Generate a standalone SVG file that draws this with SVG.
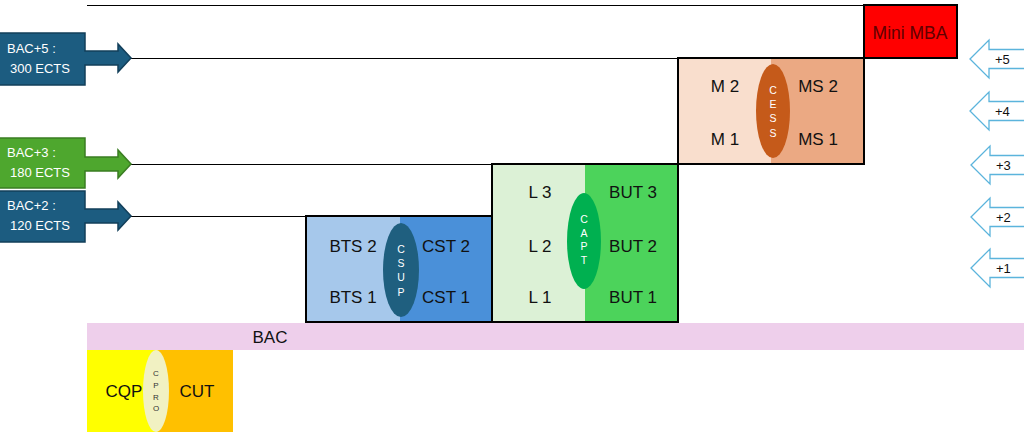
<svg xmlns="http://www.w3.org/2000/svg" width="1024" height="437" viewBox="0 0 1024 437">
<style>
text{font-family:"Liberation Sans",Arial,sans-serif}
.lbl{font-size:17px;fill:#111;text-anchor:middle}
.box{stroke:#000;stroke-width:2;fill:none}
.line{stroke:#000;stroke-width:1;fill:none}
.eltxt{font-size:10.5px;fill:#fff;text-anchor:middle}
.lt{font-size:13px;fill:#fff}
.ra{fill:#fff;stroke:#5BB4DC;stroke-width:1.3}
.rt{font-size:13px;fill:#111}
</style>
<rect width="1024" height="437" fill="#fff"/>
<g id="connectors">
<line class="line" x1="87" y1="5.5" x2="864" y2="5.5"/>
<line class="line" x1="131" y1="58.5" x2="678" y2="58.5"/>
<line class="line" x1="131" y1="164.5" x2="492" y2="164.5"/>
<line class="line" x1="131" y1="216.5" x2="306" y2="216.5"/>
</g>
<g id="bac">
<rect x="87" y="323" width="940" height="27" fill="#EECFEB"/>
<text class="lbl" x="270" y="343">BAC</text>
</g>
<g id="cqp">
<rect x="87" y="350" width="71" height="82" fill="#FFFF00"/>
<rect x="158" y="350" width="75" height="82" fill="#FFC000"/>
<ellipse cx="156" cy="391" rx="13" ry="41" fill="#F1F1C2"/>
<text class="lbl" x="124" y="397">CQP</text>
<text class="lbl" x="197" y="397">CUT</text>
<g font-size="8" fill="#333" text-anchor="middle">
<text x="156" y="376">C</text><text x="156" y="388">P</text><text x="156" y="400">R</text><text x="156" y="411">O</text>
</g>
</g>
<g id="bts">
<rect x="306" y="216" width="94" height="106" fill="#A6C8EB"/>
<rect x="400" y="216" width="92" height="106" fill="#4A90D9"/>
<ellipse cx="401" cy="270" rx="18" ry="47" fill="#1F5F7F"/>
<rect class="box" x="306" y="216" width="186" height="106"/>
<text class="lbl" x="353" y="252">BTS 2</text>
<text class="lbl" x="353" y="303">BTS 1</text>
<text class="lbl" x="446" y="252">CST 2</text>
<text class="lbl" x="446" y="303">CST 1</text>
<text class="eltxt" x="401" y="253">C</text><text class="eltxt" x="401" y="267">S</text><text class="eltxt" x="401" y="281">U</text><text class="eltxt" x="401" y="296">P</text>
</g>
<g id="licence">
<rect x="492" y="164" width="93" height="158" fill="#DCF1D6"/>
<rect x="585" y="164" width="93" height="158" fill="#4CD35B"/>
<ellipse cx="584" cy="241" rx="17" ry="48" fill="#00B050"/>
<rect class="box" x="492" y="164" width="186" height="158"/>
<text class="lbl" x="540" y="198">L 3</text>
<text class="lbl" x="540" y="252">L 2</text>
<text class="lbl" x="540" y="303">L 1</text>
<text class="lbl" x="633" y="198">BUT 3</text>
<text class="lbl" x="633" y="252">BUT 2</text>
<text class="lbl" x="633" y="303">BUT 1</text>
<text class="eltxt" x="584" y="223">C</text><text class="eltxt" x="584" y="237">A</text><text class="eltxt" x="584" y="250">P</text><text class="eltxt" x="584" y="264">T</text>
</g>
<g id="master">
<rect x="678" y="58" width="93" height="106" fill="#F9DECD"/>
<rect x="771" y="58" width="93" height="106" fill="#EBA983"/>
<ellipse cx="773" cy="111" rx="17" ry="47" fill="#C55A1A"/>
<rect class="box" x="678" y="58" width="186" height="106"/>
<text class="lbl" x="725" y="92">M 2</text>
<text class="lbl" x="725" y="145">M 1</text>
<text class="lbl" x="818" y="92">MS 2</text>
<text class="lbl" x="818" y="145">MS 1</text>
<text class="eltxt" x="773" y="94">C</text><text class="eltxt" x="773" y="108">E</text><text class="eltxt" x="773" y="122">S</text><text class="eltxt" x="773" y="137">S</text>
</g>
<g id="mba">
<rect x="864" y="5" width="93" height="53" fill="#FF0000" stroke="#000" stroke-width="2"/>
<text x="910" y="39" font-size="17.5" fill="#600000" text-anchor="middle">Mini MBA</text>
</g>
<g id="bac5">
<polygon points="-2,33 85,33 85,51 118,51 118,44 131,58 118,72 118,65 85,65 85,85 -2,85" fill="#1C5C80" stroke="#123F5A" stroke-width="1.5"/>
<text class="lt" x="7" y="53">BAC+5 :</text>
<text class="lt" x="10" y="73">300 ECTS</text>
</g>
<g id="bac3">
<polygon points="-2,138 85,138 85,157 118,157 118,150 131,164 118,178 118,171 85,171 85,188 -2,188" fill="#4EA72E" stroke="#3A7D22" stroke-width="1.5"/>
<text class="lt" x="7" y="157">BAC+3 :</text>
<text class="lt" x="10" y="177">180 ECTS</text>
</g>
<g id="bac2">
<polygon points="-2,191 85,191 85,209 118,209 118,202 131,216 118,230 118,223 85,223 85,242 -2,242" fill="#1C5C80" stroke="#123F5A" stroke-width="1.5"/>
<text class="lt" x="7" y="210">BAC+2 :</text>
<text class="lt" x="10" y="230">120 ECTS</text>
</g>
<g id="plus5">
<polygon class="ra" points="970,59 989,40 989,49.5 1030,49.5 1030,68.5 989,68.5 989,78"/>
<text class="rt" x="995" y="64">+5</text>
</g>
<g id="plus4">
<polygon class="ra" points="970,111 989,92 989,101.5 1030,101.5 1030,120.5 989,120.5 989,130"/>
<text class="rt" x="995" y="116">+4</text>
</g>
<g id="plus3">
<polygon class="ra" points="971,165 990,146 990,155.5 1030,155.5 1030,174.5 990,174.5 990,184"/>
<text class="rt" x="996" y="170">+3</text>
</g>
<g id="plus2">
<polygon class="ra" points="971,217 990,198 990,207.5 1030,207.5 1030,226.5 990,226.5 990,236"/>
<text class="rt" x="996" y="222">+2</text>
</g>
<g id="plus1">
<polygon class="ra" points="971,268 990,249 990,258.5 1030,258.5 1030,277.5 990,277.5 990,287"/>
<text class="rt" x="996" y="273">+1</text>
</g>
</svg>
